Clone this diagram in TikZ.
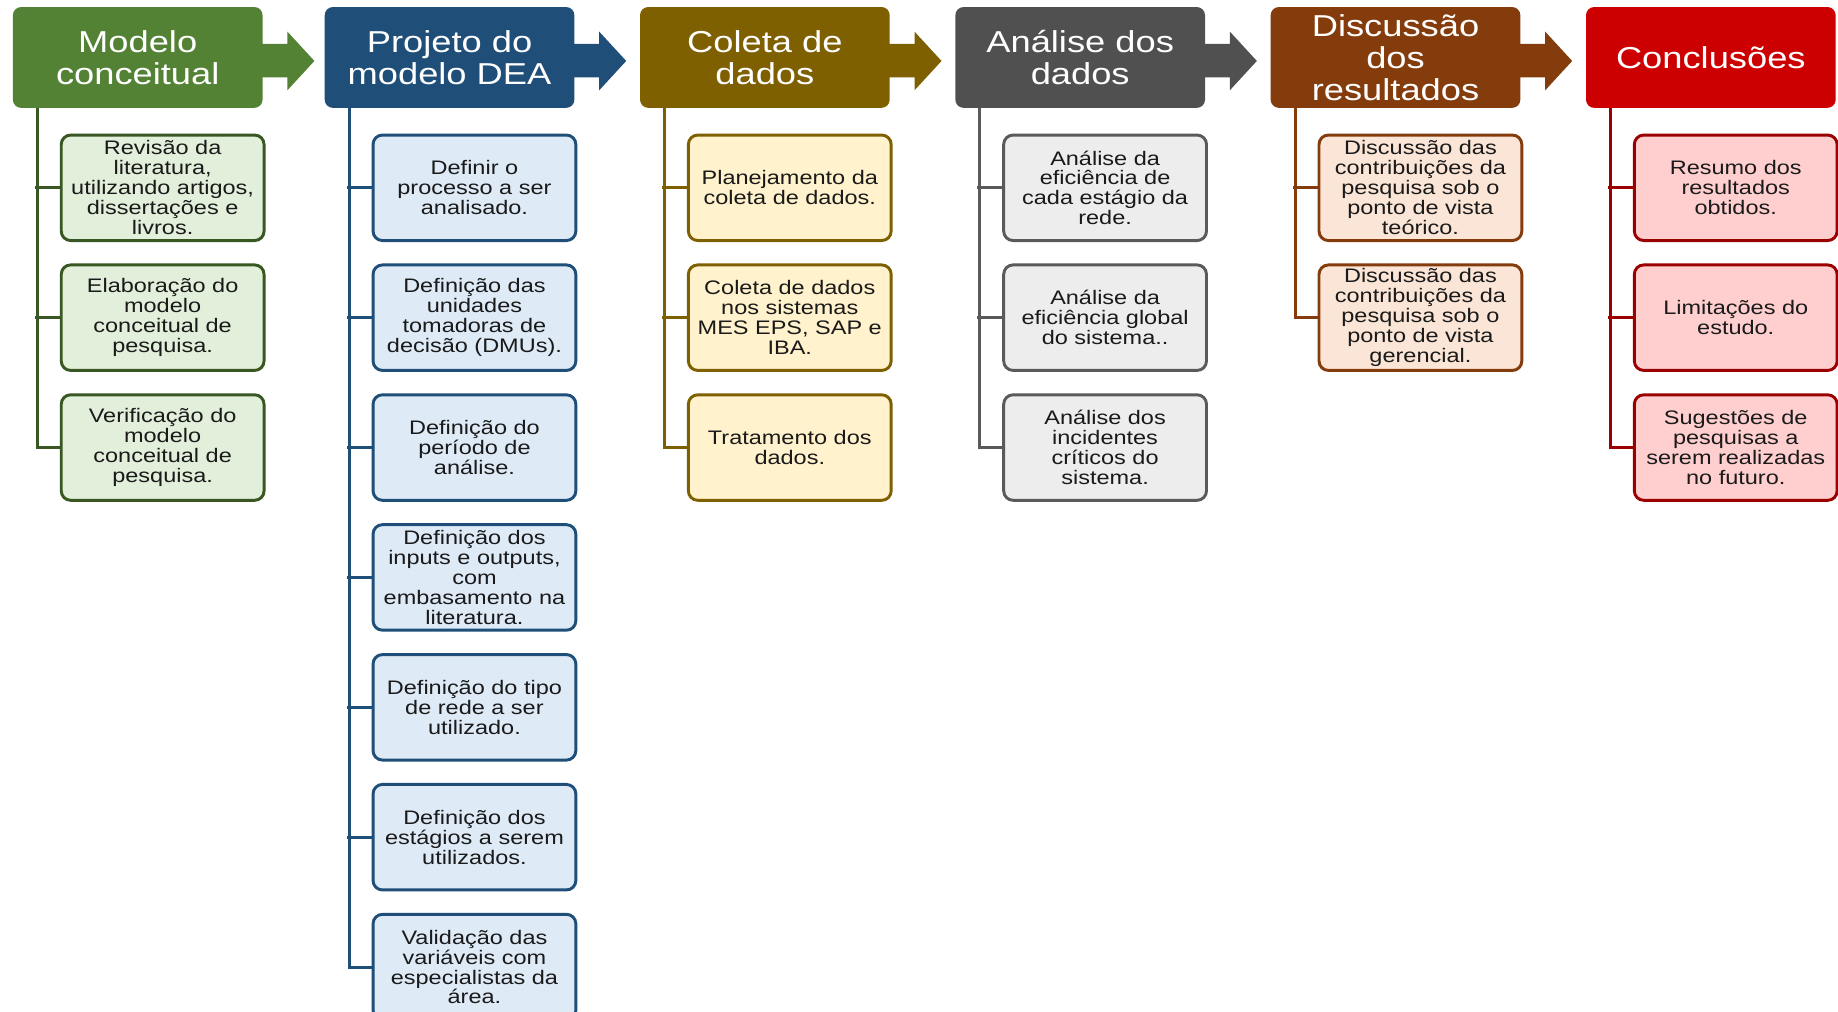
\documentclass[tikz,border=0pt]{standalone}
\usepackage{fontspec}
\setmainfont{Liberation Sans}
\newfontfamily\headfont[FakeStretch=1.2]{Liberation Sans}
\newfontfamily\itemfont[FakeStretch=1.2]{Liberation Sans}
\usetikzlibrary{calc}

% stage colours: header fill, line/border, light fill
\definecolor{gH}{HTML}{548235}\definecolor{gL}{HTML}{385723}\definecolor{gF}{HTML}{E2EFDA}
\definecolor{bH}{HTML}{1F4E79}\definecolor{bL}{HTML}{1F4E79}\definecolor{bF}{HTML}{DEEBF7}
\definecolor{oH}{HTML}{7F6000}\definecolor{oL}{HTML}{7F6000}\definecolor{oF}{HTML}{FFF2CC}
\definecolor{kH}{HTML}{505050}\definecolor{kL}{HTML}{5A5A5A}\definecolor{kF}{HTML}{EDEDED}
\definecolor{rH}{HTML}{843C0C}\definecolor{rL}{HTML}{843C0C}\definecolor{rF}{HTML}{FBE5D6}
\definecolor{cH}{HTML}{CC0000}\definecolor{cL}{HTML}{9A0000}\definecolor{cF}{HTML}{FFCFCF}
\definecolor{ink}{HTML}{1A1A1A}

\begin{document}
\begin{tikzpicture}[x=1pt,y=-1pt,
  stagehead/.style={rectangle, rounded corners=7pt, inner sep=0pt,
    minimum height=86pt, text width=213pt, align=center, text=white,
    font=\headfont\fontsize{25.8}{27.5}\selectfont},
  taskbox/.style={rectangle, rounded corners=8pt, line width=2.5pt, inner sep=0pt,
    minimum height=90pt, text width=173pt, align=center, text=ink,
    font=\itemfont\fontsize{16.7}{17}\selectfont},
  trunk/.style={line width=2.5pt, line join=miter}
]
\useasboundingbox (0,0) rectangle (1568,863);
\fill[white] (0,0) rectangle (1568,863);

% ---- stage headers ----
\node[stagehead, fill=gH] (h1) at (117.5,49) {Modelo\\conceitual};
\node[stagehead, fill=bH] (h2) at (383.5,49) {Projeto do\\modelo DEA};
\node[stagehead, fill=oH] (h3) at (652.5,49) {Coleta de\\dados};
\node[stagehead, fill=kH] (h4) at (921.5,49) {Análise dos\\dados};
\node[stagehead, fill=rH] (h5) at (1190.5,49) {Discussão\\dos\\resultados};
\node[stagehead, fill=cH] (h6) at (1459.5,49) {Conclusões};

% ---- block arrows between stages ----
\foreach \h/\c in {h1/gH,h2/bH,h3/oH,h4/kH,h5/rH}{
  \fill[\c] ($(\h.east)+(-1,-11.5)$) -- ($(\h.east)+(21,-11.5)$) -- ($(\h.east)+(21,-22)$)
    -- ($(\h.east)+(44,3)$) -- ($(\h.east)+(21,28)$) -- ($(\h.east)+(21,17)$)
    -- ($(\h.east)+(-1,17)$) -- cycle;
}

% ---- task boxes ----
% column 1
\node[taskbox, draw=gL, fill=gF] (a1) at (138.75,160.2) {Revisão da\\literatura,\\utilizando artigos,\\dissertações e\\livros.};
\node[taskbox, draw=gL, fill=gF] (a2) at (138.75,271) {Elaboração do\\modelo\\conceitual de\\pesquisa.};
\node[taskbox, draw=gL, fill=gF] (a3) at (138.75,381.8) {Verificação do\\modelo\\conceitual de\\pesquisa.};
% column 2
\node[taskbox, draw=bL, fill=bF] (b1) at (404.75,160.2) {Definir o\\processo a ser\\analisado.};
\node[taskbox, draw=bL, fill=bF] (b2) at (404.75,271) {Definição das\\unidades\\tomadoras de\\decisão (DMUs).};
\node[taskbox, draw=bL, fill=bF] (b3) at (404.75,381.8) {Definição do\\período de\\análise.};
\node[taskbox, draw=bL, fill=bF] (b4) at (404.75,492.6) {Definição dos\\inputs e outputs,\\com\\embasamento na\\literatura.};
\node[taskbox, draw=bL, fill=bF] (b5) at (404.75,603.4) {Definição do tipo\\de rede a ser\\utilizado.};
\node[taskbox, draw=bL, fill=bF] (b6) at (404.75,714.2) {Definição dos\\estágios a serem\\utilizados.};
\node[taskbox, draw=bL, fill=bF] (b7) at (404.75,825) {Validação das\\variáveis com\\especialistas da\\área.};
% column 3
\node[taskbox, draw=oL, fill=oF] (c1) at (673.75,160.2) {Planejamento da\\coleta de dados.};
\node[taskbox, draw=oL, fill=oF] (c2) at (673.75,271) {Coleta de dados\\nos sistemas\\MES EPS, SAP e\\IBA.};
\node[taskbox, draw=oL, fill=oF] (c3) at (673.75,381.8) {Tratamento dos\\dados.};
% column 4
\node[taskbox, draw=kL, fill=kF] (d1) at (942.75,160.2) {Análise da\\eficiência de\\cada estágio da\\rede.};
\node[taskbox, draw=kL, fill=kF] (d2) at (942.75,271) {Análise da\\eficiência global\\do sistema..};
\node[taskbox, draw=kL, fill=kF] (d3) at (942.75,381.8) {Análise dos\\incidentes\\críticos do\\sistema.};
% column 5
\node[taskbox, draw=rL, fill=rF] (e1) at (1211.75,160.2) {Discussão das\\contribuições da\\pesquisa sob o\\ponto de vista\\teórico.};
\node[taskbox, draw=rL, fill=rF] (e2) at (1211.75,271) {Discussão das\\contribuições da\\pesquisa sob o\\ponto de vista\\gerencial.};
% column 6
\node[taskbox, draw=cL, fill=cF] (f1) at (1480.75,160.2) {Resumo dos\\resultados\\obtidos.};
\node[taskbox, draw=cL, fill=cF] (f2) at (1480.75,271) {Limitações do\\estudo.};
\node[taskbox, draw=cL, fill=cF] (f3) at (1480.75,381.8) {Sugestões de\\pesquisas a\\serem realizadas\\no futuro.};

% ---- tree connectors: trunk from header, branches into boxes ----
\draw[trunk, gL] ($(h1.south west)+(21,0)$) |- (a3.west);
\foreach \n in {a1,a2} \draw[trunk, gL] (\n.west) -- ++(-21.2,0);
\draw[trunk, bL] ($(h2.south west)+(21,0)$) |- (b7.west);
\foreach \n in {b1,b2,b3,b4,b5,b6} \draw[trunk, bL] (\n.west) -- ++(-21.2,0);
\draw[trunk, oL] ($(h3.south west)+(21,0)$) |- (c3.west);
\foreach \n in {c1,c2} \draw[trunk, oL] (\n.west) -- ++(-21.2,0);
\draw[trunk, kL] ($(h4.south west)+(21,0)$) |- (d3.west);
\foreach \n in {d1,d2} \draw[trunk, kL] (\n.west) -- ++(-21.2,0);
\draw[trunk, rL] ($(h5.south west)+(21,0)$) |- (e2.west);
\foreach \n in {e1} \draw[trunk, rL] (\n.west) -- ++(-21.2,0);
\draw[trunk, cL] ($(h6.south west)+(21,0)$) |- (f3.west);
\foreach \n in {f1,f2} \draw[trunk, cL] (\n.west) -- ++(-21.2,0);
\end{tikzpicture}
\end{document}
